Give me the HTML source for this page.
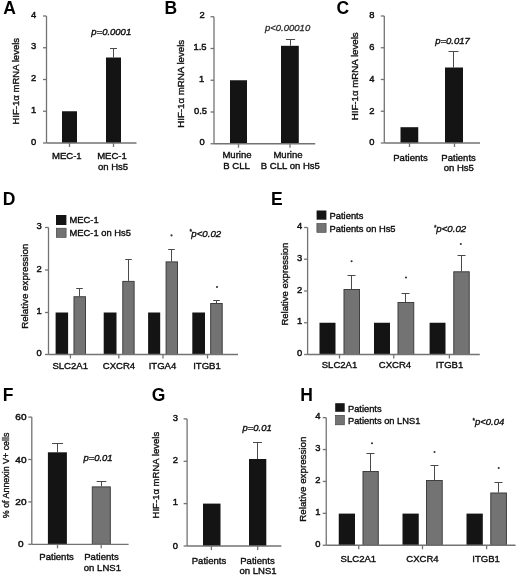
<!DOCTYPE html>
<html><head><meta charset="utf-8"><title>Figure</title>
<style>
html,body{margin:0;padding:0;background:#fff;}
body{width:520px;height:576px;overflow:hidden;}
svg{display:block;font-family:"Liberation Sans", sans-serif;}
#wrap{width:520px;height:576px;will-change:transform;}
</style></head><body>
<div id="wrap">
<svg width="520" height="576" viewBox="0 0 520 576">
<rect x="0" y="0" width="520" height="576" fill="#fff"/>
<text x="3.2" y="13.6" font-size="17.5" text-anchor="start" font-weight="bold" font-style="normal" fill="#000">A</text>
<line x1="46.5" y1="16" x2="46.5" y2="143" stroke="#737373" stroke-width="1.3"/>
<line x1="43.0" y1="143" x2="46.5" y2="143" stroke="#737373" stroke-width="1.3"/>
<text x="36.2" y="144.7" font-size="9.4" text-anchor="end" font-weight="normal" font-style="normal" fill="#0c0c0c" stroke="#111" stroke-width="0.45">0</text>
<line x1="43.0" y1="111.25" x2="46.5" y2="111.25" stroke="#737373" stroke-width="1.3"/>
<text x="36.2" y="112.95" font-size="9.4" text-anchor="end" font-weight="normal" font-style="normal" fill="#0c0c0c" stroke="#111" stroke-width="0.45">1</text>
<line x1="43.0" y1="79.5" x2="46.5" y2="79.5" stroke="#737373" stroke-width="1.3"/>
<text x="36.2" y="81.2" font-size="9.4" text-anchor="end" font-weight="normal" font-style="normal" fill="#0c0c0c" stroke="#111" stroke-width="0.45">2</text>
<line x1="43.0" y1="47.75" x2="46.5" y2="47.75" stroke="#737373" stroke-width="1.3"/>
<text x="36.2" y="49.45" font-size="9.4" text-anchor="end" font-weight="normal" font-style="normal" fill="#0c0c0c" stroke="#111" stroke-width="0.45">3</text>
<line x1="43.0" y1="16" x2="46.5" y2="16" stroke="#737373" stroke-width="1.3"/>
<text x="36.2" y="17.7" font-size="9.4" text-anchor="end" font-weight="normal" font-style="normal" fill="#0c0c0c" stroke="#111" stroke-width="0.45">4</text>
<text transform="translate(18.6,81.2) rotate(-90)" x="0" y="0" font-size="9.55" text-anchor="middle" fill="#111" stroke="#111" stroke-width="0.36">HIF-1α mRNA levels</text>
<rect x="62" y="111.25" width="15.00" height="31.75" fill="#141414"/>
<line x1="113.5" y1="48.5" x2="113.5" y2="57.5" stroke="#4a4a4a" stroke-width="1.0"/>
<line x1="110.0" y1="48.5" x2="117.0" y2="48.5" stroke="#4a4a4a" stroke-width="1.0"/>
<rect x="106" y="57.5" width="15.00" height="85.50" fill="#141414"/>
<line x1="46.5" y1="143" x2="136.5" y2="143" stroke="#737373" stroke-width="1.3"/>
<line x1="69.5" y1="143" x2="69.5" y2="147" stroke="#737373" stroke-width="1.3"/>
<line x1="113.5" y1="143" x2="113.5" y2="147" stroke="#737373" stroke-width="1.3"/>
<text x="66.8" y="158.8" font-size="9.55" text-anchor="middle" font-weight="normal" font-style="normal" fill="#0c0c0c" stroke="#0c0c0c" stroke-width="0.36">MEC-1</text>
<text x="112" y="158.8" font-size="9.55" text-anchor="middle" font-weight="normal" font-style="normal" fill="#0c0c0c" stroke="#0c0c0c" stroke-width="0.36">MEC-1</text>
<text x="113" y="169.8" font-size="9.55" text-anchor="middle" font-weight="normal" font-style="normal" fill="#0c0c0c" stroke="#0c0c0c" stroke-width="0.36">on Hs5</text>
<text x="91.3" y="35.3" font-size="9.5" text-anchor="start" font-weight="normal" font-style="italic" fill="#0c0c0c" stroke="#111" stroke-width="0.38">p=0.0001</text>
<text x="164.6" y="13.6" font-size="17.5" text-anchor="start" font-weight="bold" font-style="normal" fill="#000">B</text>
<line x1="214" y1="16.75" x2="214" y2="143.75" stroke="#737373" stroke-width="1.3"/>
<line x1="210.5" y1="143.75" x2="214" y2="143.75" stroke="#737373" stroke-width="1.3"/>
<line x1="210.5" y1="112" x2="214" y2="112" stroke="#737373" stroke-width="1.3"/>
<line x1="210.5" y1="80.25" x2="214" y2="80.25" stroke="#737373" stroke-width="1.3"/>
<line x1="210.5" y1="48.5" x2="214" y2="48.5" stroke="#737373" stroke-width="1.3"/>
<line x1="210.5" y1="16.75" x2="214" y2="16.75" stroke="#737373" stroke-width="1.3"/>
<text x="204.6" y="145.25" font-size="9.4" text-anchor="end" font-weight="normal" font-style="normal" fill="#0c0c0c" stroke="#111" stroke-width="0.45">0</text>
<text x="207.1" y="113.5" font-size="9.4" text-anchor="end" font-weight="normal" font-style="normal" fill="#0c0c0c" stroke="#111" stroke-width="0.45">0.5</text>
<text x="204.1" y="81.75" font-size="9.4" text-anchor="end" font-weight="normal" font-style="normal" fill="#0c0c0c" stroke="#111" stroke-width="0.45">1</text>
<text x="206.6" y="50.0" font-size="9.4" text-anchor="end" font-weight="normal" font-style="normal" fill="#0c0c0c" stroke="#111" stroke-width="0.45">1.5</text>
<text x="204.7" y="18.25" font-size="9.4" text-anchor="end" font-weight="normal" font-style="normal" fill="#0c0c0c" stroke="#111" stroke-width="0.45">2</text>
<text transform="translate(184.0,83.8) rotate(-90)" x="0" y="0" font-size="9.7" text-anchor="middle" fill="#111" stroke="#111" stroke-width="0.36">HIF-1α mRNA levels</text>
<rect x="230" y="80.25" width="17.00" height="63.50" fill="#141414"/>
<line x1="290.5" y1="39.5" x2="290.5" y2="45.6" stroke="#4a4a4a" stroke-width="1.0"/>
<line x1="285.9" y1="39.5" x2="295.1" y2="39.5" stroke="#4a4a4a" stroke-width="1.0"/>
<rect x="281" y="45.8" width="17.80" height="97.95" fill="#141414"/>
<line x1="214" y1="143.75" x2="315.2" y2="143.75" stroke="#737373" stroke-width="1.3"/>
<line x1="238.5" y1="143.75" x2="238.5" y2="147.75" stroke="#737373" stroke-width="1.3"/>
<line x1="290" y1="143.75" x2="290" y2="147.75" stroke="#737373" stroke-width="1.3"/>
<text x="237" y="158.4" font-size="9.55" text-anchor="middle" font-weight="normal" font-style="normal" fill="#0c0c0c" stroke="#0c0c0c" stroke-width="0.36">Murine</text>
<text x="236.5" y="169.2" font-size="9.55" text-anchor="middle" font-weight="normal" font-style="normal" fill="#0c0c0c" stroke="#0c0c0c" stroke-width="0.36">B CLL</text>
<text x="288" y="158.4" font-size="9.55" text-anchor="middle" font-weight="normal" font-style="normal" fill="#0c0c0c" stroke="#0c0c0c" stroke-width="0.36">Murine</text>
<text x="290.4" y="169.2" font-size="9.55" text-anchor="middle" font-weight="normal" font-style="normal" fill="#0c0c0c" stroke="#0c0c0c" stroke-width="0.36">B CLL on Hs5</text>
<text x="265" y="31.2" font-size="9.5" text-anchor="start" font-weight="normal" font-style="italic" fill="#2a2a2a" stroke="#2a2a2a" stroke-width="0.3">p&lt;0.00010</text>
<text x="336.5" y="13.8" font-size="17.5" text-anchor="start" font-weight="bold" font-style="normal" fill="#000">C</text>
<line x1="384.3" y1="16" x2="384.3" y2="143" stroke="#737373" stroke-width="1.3"/>
<line x1="380.8" y1="143" x2="384.3" y2="143" stroke="#737373" stroke-width="1.3"/>
<text x="374.5" y="145.3" font-size="9.4" text-anchor="end" font-weight="normal" font-style="normal" fill="#0c0c0c" stroke="#111" stroke-width="0.45">0</text>
<line x1="380.8" y1="111.25" x2="384.3" y2="111.25" stroke="#737373" stroke-width="1.3"/>
<text x="374.5" y="113.55" font-size="9.4" text-anchor="end" font-weight="normal" font-style="normal" fill="#0c0c0c" stroke="#111" stroke-width="0.45">2</text>
<line x1="380.8" y1="79.5" x2="384.3" y2="79.5" stroke="#737373" stroke-width="1.3"/>
<text x="374.5" y="81.8" font-size="9.4" text-anchor="end" font-weight="normal" font-style="normal" fill="#0c0c0c" stroke="#111" stroke-width="0.45">4</text>
<line x1="380.8" y1="47.75" x2="384.3" y2="47.75" stroke="#737373" stroke-width="1.3"/>
<text x="374.5" y="50.05" font-size="9.4" text-anchor="end" font-weight="normal" font-style="normal" fill="#0c0c0c" stroke="#111" stroke-width="0.45">6</text>
<line x1="380.8" y1="16" x2="384.3" y2="16" stroke="#737373" stroke-width="1.3"/>
<text x="374.5" y="18.3" font-size="9.4" text-anchor="end" font-weight="normal" font-style="normal" fill="#0c0c0c" stroke="#111" stroke-width="0.45">8</text>
<text transform="translate(358.2,76.3) rotate(-90)" x="0" y="0" font-size="9.7" text-anchor="middle" fill="#111" stroke="#111" stroke-width="0.36">HIF-1α mRNA levels</text>
<rect x="400.5" y="127.2" width="17.75" height="15.80" fill="#141414"/>
<line x1="453.5" y1="51.5" x2="453.5" y2="67.5" stroke="#4a4a4a" stroke-width="1.0"/>
<line x1="448.5" y1="51.5" x2="458.5" y2="51.5" stroke="#4a4a4a" stroke-width="1.0"/>
<rect x="445" y="67.5" width="18.00" height="75.50" fill="#141414"/>
<line x1="384.3" y1="143" x2="480" y2="143" stroke="#737373" stroke-width="1.3"/>
<line x1="409.5" y1="143" x2="409.5" y2="147" stroke="#737373" stroke-width="1.3"/>
<line x1="454.5" y1="143" x2="454.5" y2="147" stroke="#737373" stroke-width="1.3"/>
<text x="410.5" y="160.7" font-size="9.55" text-anchor="middle" font-weight="normal" font-style="normal" fill="#0c0c0c" stroke="#0c0c0c" stroke-width="0.36">Patients</text>
<text x="458.6" y="160.5" font-size="9.55" text-anchor="middle" font-weight="normal" font-style="normal" fill="#0c0c0c" stroke="#0c0c0c" stroke-width="0.36">Patients</text>
<text x="458.8" y="171.0" font-size="9.55" text-anchor="middle" font-weight="normal" font-style="normal" fill="#0c0c0c" stroke="#0c0c0c" stroke-width="0.36">on Hs5</text>
<text x="435.2" y="43.6" font-size="9.5" text-anchor="start" font-weight="normal" font-style="italic" fill="#0c0c0c" stroke="#111" stroke-width="0.38">p=0.017</text>
<text x="2.8" y="205.2" font-size="17.5" text-anchor="start" font-weight="bold" font-style="normal" fill="#000">D</text>
<line x1="48.5" y1="227.5" x2="48.5" y2="354.5" stroke="#737373" stroke-width="1.3"/>
<line x1="45.0" y1="354.5" x2="48.5" y2="354.5" stroke="#737373" stroke-width="1.3"/>
<text x="41.7" y="356.2" font-size="9.4" text-anchor="end" font-weight="normal" font-style="normal" fill="#0c0c0c" stroke="#111" stroke-width="0.45">0</text>
<line x1="45.0" y1="312.5" x2="48.5" y2="312.5" stroke="#737373" stroke-width="1.3"/>
<text x="41.7" y="314.2" font-size="9.4" text-anchor="end" font-weight="normal" font-style="normal" fill="#0c0c0c" stroke="#111" stroke-width="0.45">1</text>
<line x1="45.0" y1="270" x2="48.5" y2="270" stroke="#737373" stroke-width="1.3"/>
<text x="41.7" y="271.7" font-size="9.4" text-anchor="end" font-weight="normal" font-style="normal" fill="#0c0c0c" stroke="#111" stroke-width="0.45">2</text>
<line x1="45.0" y1="227.5" x2="48.5" y2="227.5" stroke="#737373" stroke-width="1.3"/>
<text x="41.7" y="229.2" font-size="9.4" text-anchor="end" font-weight="normal" font-style="normal" fill="#0c0c0c" stroke="#111" stroke-width="0.45">3</text>
<text transform="translate(27.7,286.3) rotate(-90)" x="0" y="0" font-size="9.75" text-anchor="middle" fill="#111" stroke="#111" stroke-width="0.36">Relative expression</text>
<rect x="56" y="215" width="10.40" height="10.00" fill="#141414"/>
<rect x="56.30" y="228.20" width="9.80" height="9.20" fill="#737373" stroke="#3a3a3a" stroke-width="0.6"/>
<text x="69.5" y="222.7" font-size="9.4" text-anchor="start" font-weight="normal" font-style="normal" fill="#0c0c0c" stroke="#0c0c0c" stroke-width="0.36">MEC-1</text>
<text x="69.5" y="235.7" font-size="9.4" text-anchor="start" font-weight="normal" font-style="normal" fill="#0c0c0c" stroke="#0c0c0c" stroke-width="0.36">MEC-1 on Hs5</text>
<rect x="55.6" y="312.5" width="12.50" height="42.00" fill="#141414"/>
<line x1="79.5" y1="288.5" x2="79.5" y2="296.25" stroke="#4a4a4a" stroke-width="1.0"/>
<line x1="76.2" y1="288.5" x2="82.8" y2="288.5" stroke="#4a4a4a" stroke-width="1.0"/>
<rect x="73.97" y="296.73" width="11.55" height="57.77" fill="#737373" stroke="#3a3a3a" stroke-width="0.95"/>
<rect x="103.7" y="312.5" width="12.80" height="42.00" fill="#141414"/>
<line x1="128.5" y1="259.5" x2="128.5" y2="280.9" stroke="#4a4a4a" stroke-width="1.0"/>
<line x1="125.2" y1="259.5" x2="131.8" y2="259.5" stroke="#4a4a4a" stroke-width="1.0"/>
<rect x="122.77" y="281.38" width="11.35" height="73.13" fill="#737373" stroke="#3a3a3a" stroke-width="0.95"/>
<rect x="148.1" y="312.5" width="12.10" height="42.00" fill="#141414"/>
<line x1="171.5" y1="249.5" x2="171.5" y2="261.4" stroke="#4a4a4a" stroke-width="1.0"/>
<line x1="168.2" y1="249.5" x2="174.8" y2="249.5" stroke="#4a4a4a" stroke-width="1.0"/>
<rect x="166.07" y="261.88" width="11.45" height="92.63" fill="#737373" stroke="#3a3a3a" stroke-width="0.95"/>
<rect x="192.3" y="312.5" width="12.70" height="42.00" fill="#141414"/>
<line x1="216.5" y1="300.5" x2="216.5" y2="303.0" stroke="#4a4a4a" stroke-width="1.0"/>
<line x1="213.2" y1="300.5" x2="219.8" y2="300.5" stroke="#4a4a4a" stroke-width="1.0"/>
<rect x="210.67" y="303.48" width="11.55" height="51.02" fill="#737373" stroke="#3a3a3a" stroke-width="0.95"/>
<line x1="48.5" y1="354.5" x2="238" y2="354.5" stroke="#737373" stroke-width="1.3"/>
<line x1="70.4" y1="354.5" x2="70.4" y2="358.5" stroke="#737373" stroke-width="1.3"/>
<line x1="118.8" y1="354.5" x2="118.8" y2="358.5" stroke="#737373" stroke-width="1.3"/>
<line x1="163" y1="354.5" x2="163" y2="358.5" stroke="#737373" stroke-width="1.3"/>
<line x1="207.5" y1="354.5" x2="207.5" y2="358.5" stroke="#737373" stroke-width="1.3"/>
<text x="70.2" y="369.3" font-size="9.55" text-anchor="middle" font-weight="normal" font-style="normal" fill="#0c0c0c" stroke="#0c0c0c" stroke-width="0.36">SLC2A1</text>
<text x="119" y="369.3" font-size="9.55" text-anchor="middle" font-weight="normal" font-style="normal" fill="#0c0c0c" stroke="#0c0c0c" stroke-width="0.36">CXCR4</text>
<text x="162.5" y="369.3" font-size="9.55" text-anchor="middle" font-weight="normal" font-style="normal" fill="#0c0c0c" stroke="#0c0c0c" stroke-width="0.36">ITGA4</text>
<text x="207" y="369.3" font-size="9.55" text-anchor="middle" font-weight="normal" font-style="normal" fill="#0c0c0c" stroke="#0c0c0c" stroke-width="0.36">ITGB1</text>
<circle cx="171.5" cy="235.4" r="1.05" fill="#333"/>
<circle cx="217" cy="287" r="1.05" fill="#333"/>
<text x="189.5" y="234.4" font-size="6.5" text-anchor="start" font-weight="normal" font-style="normal" fill="#0c0c0c" stroke="#111" stroke-width="0.3">*</text>
<text x="191.3" y="236.5" font-size="9.7" text-anchor="start" font-weight="normal" font-style="italic" fill="#0c0c0c" stroke="#111" stroke-width="0.35">p&lt;0.02</text>
<text x="271" y="205.2" font-size="17.5" text-anchor="start" font-weight="bold" font-style="normal" fill="#000">E</text>
<line x1="307.6" y1="227.5" x2="307.6" y2="354.5" stroke="#737373" stroke-width="1.3"/>
<line x1="304.1" y1="354.5" x2="307.6" y2="354.5" stroke="#737373" stroke-width="1.3"/>
<text x="302.2" y="356.2" font-size="9.4" text-anchor="end" font-weight="normal" font-style="normal" fill="#0c0c0c" stroke="#111" stroke-width="0.45">0</text>
<line x1="304.1" y1="322.75" x2="307.6" y2="322.75" stroke="#737373" stroke-width="1.3"/>
<text x="302.2" y="324.45" font-size="9.4" text-anchor="end" font-weight="normal" font-style="normal" fill="#0c0c0c" stroke="#111" stroke-width="0.45">1</text>
<line x1="304.1" y1="291" x2="307.6" y2="291" stroke="#737373" stroke-width="1.3"/>
<text x="302.2" y="292.7" font-size="9.4" text-anchor="end" font-weight="normal" font-style="normal" fill="#0c0c0c" stroke="#111" stroke-width="0.45">2</text>
<line x1="304.1" y1="259.25" x2="307.6" y2="259.25" stroke="#737373" stroke-width="1.3"/>
<text x="302.2" y="260.95" font-size="9.4" text-anchor="end" font-weight="normal" font-style="normal" fill="#0c0c0c" stroke="#111" stroke-width="0.45">3</text>
<line x1="304.1" y1="227.5" x2="307.6" y2="227.5" stroke="#737373" stroke-width="1.3"/>
<text x="302.2" y="229.2" font-size="9.4" text-anchor="end" font-weight="normal" font-style="normal" fill="#0c0c0c" stroke="#111" stroke-width="0.45">4</text>
<text transform="translate(287.5,284.1) rotate(-90)" x="0" y="0" font-size="9.5" text-anchor="middle" fill="#111" stroke="#111" stroke-width="0.36">Relative expression</text>
<rect x="316.6" y="210.5" width="9.80" height="9.20" fill="#141414"/>
<rect x="316.90" y="223.50" width="9.20" height="8.80" fill="#737373" stroke="#3a3a3a" stroke-width="0.6"/>
<text x="329.6" y="218.8" font-size="9.35" text-anchor="start" font-weight="normal" font-style="normal" fill="#0c0c0c" stroke="#0c0c0c" stroke-width="0.36">Patients</text>
<text x="329.6" y="231.8" font-size="9.35" text-anchor="start" font-weight="normal" font-style="normal" fill="#0c0c0c" stroke="#0c0c0c" stroke-width="0.36">Patients on Hs5</text>
<rect x="319.5" y="322.75" width="16.00" height="31.75" fill="#141414"/>
<line x1="351.5" y1="275.5" x2="351.5" y2="289.0" stroke="#4a4a4a" stroke-width="1.0"/>
<line x1="347.5" y1="275.5" x2="355.5" y2="275.5" stroke="#4a4a4a" stroke-width="1.0"/>
<rect x="343.98" y="289.48" width="15.55" height="65.03" fill="#737373" stroke="#3a3a3a" stroke-width="0.95"/>
<rect x="374.0" y="322.75" width="16.00" height="31.75" fill="#141414"/>
<line x1="405.5" y1="293.5" x2="405.5" y2="302.0" stroke="#4a4a4a" stroke-width="1.0"/>
<line x1="401.5" y1="293.5" x2="409.5" y2="293.5" stroke="#4a4a4a" stroke-width="1.0"/>
<rect x="397.98" y="302.48" width="15.80" height="52.02" fill="#737373" stroke="#3a3a3a" stroke-width="0.95"/>
<rect x="429.6" y="322.75" width="15.90" height="31.75" fill="#141414"/>
<line x1="461.5" y1="255.5" x2="461.5" y2="271.3" stroke="#4a4a4a" stroke-width="1.0"/>
<line x1="457.5" y1="255.5" x2="465.5" y2="255.5" stroke="#4a4a4a" stroke-width="1.0"/>
<rect x="453.78" y="271.78" width="15.45" height="82.72" fill="#737373" stroke="#3a3a3a" stroke-width="0.95"/>
<line x1="307.6" y1="354.5" x2="479.8" y2="354.5" stroke="#737373" stroke-width="1.3"/>
<line x1="339.5" y1="354.5" x2="339.5" y2="358.5" stroke="#737373" stroke-width="1.3"/>
<line x1="393.75" y1="354.5" x2="393.75" y2="358.5" stroke="#737373" stroke-width="1.3"/>
<line x1="449.4" y1="354.5" x2="449.4" y2="358.5" stroke="#737373" stroke-width="1.3"/>
<text x="339.5" y="367.8" font-size="9.55" text-anchor="middle" font-weight="normal" font-style="normal" fill="#0c0c0c" stroke="#0c0c0c" stroke-width="0.36">SLC2A1</text>
<text x="395" y="367.8" font-size="9.55" text-anchor="middle" font-weight="normal" font-style="normal" fill="#0c0c0c" stroke="#0c0c0c" stroke-width="0.36">CXCR4</text>
<text x="449.5" y="367.8" font-size="9.55" text-anchor="middle" font-weight="normal" font-style="normal" fill="#0c0c0c" stroke="#0c0c0c" stroke-width="0.36">ITGB1</text>
<circle cx="351.6" cy="261.2" r="1.05" fill="#333"/>
<circle cx="406" cy="277.5" r="1.05" fill="#333"/>
<circle cx="460.8" cy="244" r="1.05" fill="#333"/>
<text x="433.9" y="229.6" font-size="6.5" text-anchor="start" font-weight="normal" font-style="normal" fill="#0c0c0c" stroke="#111" stroke-width="0.3">*</text>
<text x="436.3" y="232.2" font-size="9.7" text-anchor="start" font-weight="normal" font-style="italic" fill="#0c0c0c" stroke="#111" stroke-width="0.35">p&lt;0.02</text>
<text x="2.8" y="400.6" font-size="17.5" text-anchor="start" font-weight="bold" font-style="normal" fill="#000">F</text>
<line x1="31.8" y1="417.1" x2="31.8" y2="544.3" stroke="#737373" stroke-width="1.3"/>
<line x1="28.3" y1="544.3" x2="31.8" y2="544.3" stroke="#737373" stroke-width="1.3"/>
<line x1="28.3" y1="501.9" x2="31.8" y2="501.9" stroke="#737373" stroke-width="1.3"/>
<line x1="28.3" y1="459.5" x2="31.8" y2="459.5" stroke="#737373" stroke-width="1.3"/>
<line x1="28.3" y1="417.1" x2="31.8" y2="417.1" stroke="#737373" stroke-width="1.3"/>
<text x="20.9" y="547.3" font-size="9.0" text-anchor="middle" font-weight="normal" font-style="normal" fill="#0c0c0c" stroke="#111" stroke-width="0.45" textLength="5.6" lengthAdjust="spacingAndGlyphs">0</text>
<text x="20.9" y="504.9" font-size="9.0" text-anchor="middle" font-weight="normal" font-style="normal" fill="#0c0c0c" stroke="#111" stroke-width="0.45" textLength="11.2" lengthAdjust="spacingAndGlyphs">20</text>
<text x="20.9" y="462.5" font-size="9.0" text-anchor="middle" font-weight="normal" font-style="normal" fill="#0c0c0c" stroke="#111" stroke-width="0.45" textLength="11.2" lengthAdjust="spacingAndGlyphs">40</text>
<text x="20.9" y="420.1" font-size="9.0" text-anchor="middle" font-weight="normal" font-style="normal" fill="#0c0c0c" stroke="#111" stroke-width="0.45" textLength="11.2" lengthAdjust="spacingAndGlyphs">60</text>
<text transform="translate(8.8,475.4) rotate(-90)" x="0" y="0" font-size="8.9" text-anchor="middle" fill="#111" stroke="#111" stroke-width="0.36">% of Annexin V+ cells</text>
<line x1="57.5" y1="443.5" x2="57.5" y2="452.3" stroke="#4a4a4a" stroke-width="1.0"/>
<line x1="52.0" y1="443.5" x2="63.0" y2="443.5" stroke="#4a4a4a" stroke-width="1.0"/>
<rect x="47.9" y="452.3" width="19.00" height="92.00" fill="#141414"/>
<line x1="101.5" y1="481.5" x2="101.5" y2="486.4" stroke="#4a4a4a" stroke-width="1.0"/>
<line x1="96.7" y1="481.5" x2="106.3" y2="481.5" stroke="#4a4a4a" stroke-width="1.0"/>
<rect x="92.27" y="486.88" width="18.05" height="57.42" fill="#737373" stroke="#3a3a3a" stroke-width="0.95"/>
<line x1="31.8" y1="544.3" x2="128.6" y2="544.3" stroke="#737373" stroke-width="1.3"/>
<line x1="57.5" y1="544.3" x2="57.5" y2="548.3" stroke="#737373" stroke-width="1.3"/>
<line x1="101.2" y1="544.3" x2="101.2" y2="548.3" stroke="#737373" stroke-width="1.3"/>
<text x="56.6" y="560" font-size="9.55" text-anchor="middle" font-weight="normal" font-style="normal" fill="#0c0c0c" stroke="#0c0c0c" stroke-width="0.36">Patients</text>
<text x="101.5" y="560" font-size="9.55" text-anchor="middle" font-weight="normal" font-style="normal" fill="#0c0c0c" stroke="#0c0c0c" stroke-width="0.36">Patients</text>
<text x="102.4" y="571.2" font-size="9.55" text-anchor="middle" font-weight="normal" font-style="normal" fill="#0c0c0c" stroke="#0c0c0c" stroke-width="0.36">on LNS1</text>
<text x="83.4" y="460.8" font-size="9.45" text-anchor="start" font-weight="normal" font-style="italic" fill="#0c0c0c" stroke="#111" stroke-width="0.38">p=0.01</text>
<text x="151.7" y="401" font-size="17.5" text-anchor="start" font-weight="bold" font-style="normal" fill="#000">G</text>
<line x1="187.1" y1="418.9" x2="187.1" y2="546" stroke="#737373" stroke-width="1.3"/>
<line x1="183.6" y1="546" x2="187.1" y2="546" stroke="#737373" stroke-width="1.3"/>
<line x1="183.6" y1="503.6" x2="187.1" y2="503.6" stroke="#737373" stroke-width="1.3"/>
<line x1="183.6" y1="461.3" x2="187.1" y2="461.3" stroke="#737373" stroke-width="1.3"/>
<line x1="183.6" y1="418.9" x2="187.1" y2="418.9" stroke="#737373" stroke-width="1.3"/>
<text x="177.9" y="548.9" font-size="9.4" text-anchor="end" font-weight="normal" font-style="normal" fill="#0c0c0c" stroke="#111" stroke-width="0.45">0</text>
<text x="177.9" y="505.3" font-size="9.4" text-anchor="end" font-weight="normal" font-style="normal" fill="#0c0c0c" stroke="#111" stroke-width="0.45">1</text>
<text x="177.9" y="463.0" font-size="9.4" text-anchor="end" font-weight="normal" font-style="normal" fill="#0c0c0c" stroke="#111" stroke-width="0.45">2</text>
<text x="177.9" y="420.59999999999997" font-size="9.4" text-anchor="end" font-weight="normal" font-style="normal" fill="#0c0c0c" stroke="#111" stroke-width="0.45">3</text>
<text transform="translate(159,475.1) rotate(-90)" x="0" y="0" font-size="9.55" text-anchor="middle" fill="#111" stroke="#111" stroke-width="0.36">HIF-1α mRNA levels</text>
<rect x="203" y="503.6" width="17.50" height="42.40" fill="#141414"/>
<line x1="257.5" y1="442.5" x2="257.5" y2="459" stroke="#4a4a4a" stroke-width="1.0"/>
<line x1="253.0" y1="442.5" x2="262.0" y2="442.5" stroke="#4a4a4a" stroke-width="1.0"/>
<rect x="249" y="459" width="17.30" height="87.00" fill="#141414"/>
<line x1="187.1" y1="546" x2="281.4" y2="546" stroke="#737373" stroke-width="1.3"/>
<line x1="211.4" y1="546" x2="211.4" y2="550" stroke="#737373" stroke-width="1.3"/>
<line x1="257.7" y1="546" x2="257.7" y2="550" stroke="#737373" stroke-width="1.3"/>
<text x="209" y="563.9" font-size="9.55" text-anchor="middle" font-weight="normal" font-style="normal" fill="#0c0c0c" stroke="#0c0c0c" stroke-width="0.36">Patients</text>
<text x="257.5" y="563.9" font-size="9.55" text-anchor="middle" font-weight="normal" font-style="normal" fill="#0c0c0c" stroke="#0c0c0c" stroke-width="0.36">Patients</text>
<text x="258" y="574.1" font-size="9.55" text-anchor="middle" font-weight="normal" font-style="normal" fill="#0c0c0c" stroke="#0c0c0c" stroke-width="0.36">on LNS1</text>
<text x="242.6" y="431.1" font-size="9.45" text-anchor="start" font-weight="normal" font-style="italic" fill="#0c0c0c" stroke="#111" stroke-width="0.38">p=0.01</text>
<text x="300.3" y="400.8" font-size="17.5" text-anchor="start" font-weight="bold" font-style="normal" fill="#000">H</text>
<line x1="326.25" y1="417.65" x2="326.25" y2="545.25" stroke="#737373" stroke-width="1.3"/>
<line x1="322.75" y1="545.25" x2="326.25" y2="545.25" stroke="#737373" stroke-width="1.3"/>
<text x="320.4" y="546.95" font-size="9.4" text-anchor="end" font-weight="normal" font-style="normal" fill="#0c0c0c" stroke="#111" stroke-width="0.45">0</text>
<line x1="322.75" y1="513.35" x2="326.25" y2="513.35" stroke="#737373" stroke-width="1.3"/>
<text x="320.4" y="515.0500000000001" font-size="9.4" text-anchor="end" font-weight="normal" font-style="normal" fill="#0c0c0c" stroke="#111" stroke-width="0.45">1</text>
<line x1="322.75" y1="481.45" x2="326.25" y2="481.45" stroke="#737373" stroke-width="1.3"/>
<text x="320.4" y="483.15" font-size="9.4" text-anchor="end" font-weight="normal" font-style="normal" fill="#0c0c0c" stroke="#111" stroke-width="0.45">2</text>
<line x1="322.75" y1="449.55" x2="326.25" y2="449.55" stroke="#737373" stroke-width="1.3"/>
<text x="320.4" y="451.25" font-size="9.4" text-anchor="end" font-weight="normal" font-style="normal" fill="#0c0c0c" stroke="#111" stroke-width="0.45">3</text>
<line x1="322.75" y1="417.65" x2="326.25" y2="417.65" stroke="#737373" stroke-width="1.3"/>
<text x="320.4" y="419.34999999999997" font-size="9.4" text-anchor="end" font-weight="normal" font-style="normal" fill="#0c0c0c" stroke="#111" stroke-width="0.45">4</text>
<text transform="translate(305.8,479.2) rotate(-90)" x="0" y="0" font-size="9.75" text-anchor="middle" fill="#111" stroke="#111" stroke-width="0.36">Relative expression</text>
<rect x="335.2" y="403.2" width="9.50" height="8.60" fill="#141414"/>
<rect x="335.50" y="415.30" width="8.90" height="9.50" fill="#737373" stroke="#3a3a3a" stroke-width="0.6"/>
<text x="348.0" y="411.5" font-size="9.3" text-anchor="start" font-weight="normal" font-style="normal" fill="#0c0c0c" stroke="#0c0c0c" stroke-width="0.36">Patients</text>
<text x="348.0" y="423.6" font-size="9.3" text-anchor="start" font-weight="normal" font-style="normal" fill="#0c0c0c" stroke="#0c0c0c" stroke-width="0.36">Patients on LNS1</text>
<rect x="338.75" y="513.6" width="16.25" height="31.65" fill="#141414"/>
<line x1="370.5" y1="453.5" x2="370.5" y2="471.0" stroke="#4a4a4a" stroke-width="1.0"/>
<line x1="366.5" y1="453.5" x2="374.5" y2="453.5" stroke="#4a4a4a" stroke-width="1.0"/>
<rect x="362.98" y="471.48" width="15.30" height="73.78" fill="#737373" stroke="#3a3a3a" stroke-width="0.95"/>
<rect x="402.5" y="513.6" width="16.25" height="31.65" fill="#141414"/>
<line x1="434.5" y1="465.5" x2="434.5" y2="480.0" stroke="#4a4a4a" stroke-width="1.0"/>
<line x1="430.5" y1="465.5" x2="438.5" y2="465.5" stroke="#4a4a4a" stroke-width="1.0"/>
<rect x="426.48" y="480.48" width="15.75" height="64.78" fill="#737373" stroke="#3a3a3a" stroke-width="0.95"/>
<rect x="466.5" y="513.6" width="16.30" height="31.65" fill="#141414"/>
<line x1="498.5" y1="482.5" x2="498.5" y2="492.5" stroke="#4a4a4a" stroke-width="1.0"/>
<line x1="494.5" y1="482.5" x2="502.5" y2="482.5" stroke="#4a4a4a" stroke-width="1.0"/>
<rect x="490.78" y="492.98" width="15.65" height="52.27" fill="#737373" stroke="#3a3a3a" stroke-width="0.95"/>
<line x1="326.25" y1="545.25" x2="515.5" y2="545.25" stroke="#737373" stroke-width="1.3"/>
<line x1="358.75" y1="545.25" x2="358.75" y2="549.25" stroke="#737373" stroke-width="1.3"/>
<line x1="422.5" y1="545.25" x2="422.5" y2="549.25" stroke="#737373" stroke-width="1.3"/>
<line x1="486.6" y1="545.25" x2="486.6" y2="549.25" stroke="#737373" stroke-width="1.3"/>
<text x="358.4" y="562.3" font-size="9.55" text-anchor="middle" font-weight="normal" font-style="normal" fill="#0c0c0c" stroke="#0c0c0c" stroke-width="0.36">SLC2A1</text>
<text x="422.5" y="562.3" font-size="9.55" text-anchor="middle" font-weight="normal" font-style="normal" fill="#0c0c0c" stroke="#0c0c0c" stroke-width="0.36">CXCR4</text>
<text x="486.1" y="562.3" font-size="9.55" text-anchor="middle" font-weight="normal" font-style="normal" fill="#0c0c0c" stroke="#0c0c0c" stroke-width="0.36">ITGB1</text>
<circle cx="372" cy="443.3" r="1.05" fill="#333"/>
<circle cx="434.5" cy="452" r="1.05" fill="#333"/>
<circle cx="498.7" cy="468" r="1.05" fill="#333"/>
<text x="472.5" y="422.6" font-size="6.5" text-anchor="start" font-weight="normal" font-style="normal" fill="#0c0c0c" stroke="#111" stroke-width="0.3">*</text>
<text x="474.9" y="425.3" font-size="9.5" text-anchor="start" font-weight="normal" font-style="italic" fill="#0c0c0c" stroke="#111" stroke-width="0.35">p&lt;0.04</text>
</svg>
</div>
</body></html>
